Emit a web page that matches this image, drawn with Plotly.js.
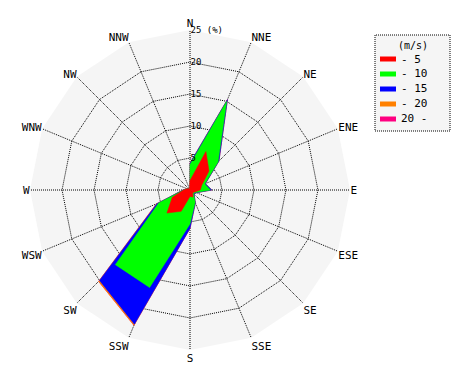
<!DOCTYPE html>
<html>
<head>
<meta charset="utf-8">
<script src="https://cdn.plot.ly/plotly-3.0.1.min.js"></script>
<style>html,body{margin:0;padding:0;background:#fff;}#chart{width:470px;height:380px;}</style>
</head>
<body>
<div id="chart"></div>
<script>
// Wind directions (16 points)
const directions = ['N','NNE','NE','ENE','E','ESE','SE','SSE','S','SSW','SW','WSW','W','WNW','NW','NNW'];
// Cumulative frequency (%) by speed class
const upTo5  = [1.5, 6.5, 4.2, 2.0, 1.6, 0.8, 0.6, 1.2, 1.0, 3.6, 5.1, 3.0, 1.0, 0.5, 0.3, 0.2];
const upTo10 = [4.0, 15.0, 6.2, 2.5, 3.2, 1.0, 0.8, 2.1, 5.3, 16.5, 16.5, 5.3, 1.0, 0.5, 0.3, 0.0];
const upTo15 = [4.2, 15.3, 6.4, 2.6, 3.4, 1.1, 0.9, 2.2, 6.0, 22.7, 20.0, 5.6, 1.1, 0.5, 0.3, 0.0];
const upTo20 = [4.2, 15.3, 6.4, 2.6, 3.4, 1.1, 0.9, 2.2, 6.0, 22.9, 20.2, 5.7, 1.1, 0.5, 0.3, 0.0];
const over20 = [4.2, 15.3, 6.4, 2.6, 3.4, 1.1, 0.9, 2.2, 6.0, 22.9, 20.2, 5.7, 1.1, 0.5, 0.3, 0.0];
const classNames = ['- 5', '- 10', '- 15', '- 20', '20 -'];
const classColors = ['#ff0000', '#00ff00', '#0000ff', '#ff8000', '#ff0080'];
const legendTitle = '(m/s)';
const radialTicks = [5, 10, 15, 20, 25];
const radialTickText = ['5', '10', '15', '20', '25 (%)'];

const series = [upTo5, upTo10, upTo15, upTo20, over20];
const traces = [];
for (let i = series.length - 1; i >= 0; i--) {
  traces.push({
    type: 'scatterpolar',
    mode: 'lines',
    r: series[i].concat([series[i][0]]),
    theta: directions.concat([directions[0]]),
    fill: 'toself',
    fillcolor: classColors[i],
    line: {color: classColors[i], width: 0.5},
    name: classNames[i],
    hoverinfo: 'skip',
    showlegend: false
  });
}

const W = 470, H = 380;
const px = x => x / W, py = y => 1 - y / H;
const font = {family: 'DejaVu Sans Mono, monospace', size: 11, color: '#000'};

// Legend box drawn with paper-referenced shapes and annotations
const shapes = [{
  type: 'rect', xref: 'paper', yref: 'paper',
  x0: px(375), x1: px(450), y0: py(131), y1: py(35),
  fillcolor: '#f5f5f5', line: {color: '#000', width: 1, dash: '1px,1px'}, layer: 'below'
}];
const annotations = [{
  xref: 'paper', yref: 'paper', x: px(413), y: py(45), text: legendTitle,
  showarrow: false, xanchor: 'center', yanchor: 'middle',
  font: {family: 'DejaVu Sans Mono, monospace', size: 10, color: '#000'}
}];
classNames.forEach((name, i) => {
  const yc = 59 + i * 15;
  shapes.push({
    type: 'rect', xref: 'paper', yref: 'paper',
    x0: px(380), x1: px(396), y0: py(yc + 2.5), y1: py(yc - 2.5),
    fillcolor: classColors[i], line: {width: 0}
  });
  annotations.push({
    xref: 'paper', yref: 'paper', x: px(399), y: py(yc), text: name,
    showarrow: false, xanchor: 'left', yanchor: 'middle', font: font
  });
});

const layout = {
  width: W, height: H,
  margin: {l: 0, r: 0, t: 0, b: 0},
  paper_bgcolor: '#ffffff',
  font: font,
  showlegend: false,
  shapes: shapes,
  annotations: annotations,
  polar: {
    domain: {x: [px(30), px(350)], y: [1 - 350 / H, 1 - 30 / H]},
    gridshape: 'linear',
    bgcolor: '#f5f5f5',
    angularaxis: {
      type: 'category',
      categoryarray: directions,
      direction: 'clockwise',
      rotation: 90,
      showline: false,
      ticks: '',
      gridcolor: '#000', griddash: '1px,1px', gridwidth: 1,
      tickfont: font, layer: 'above traces'
    },
    radialaxis: {
      range: [0, 25.01],
      angle: 90,
      tickvals: radialTicks,
      ticktext: radialTickText,
      showline: false,
      ticks: '',
      gridcolor: '#000', griddash: '1px,1px', gridwidth: 1,
      tickfont: {family: 'DejaVu Sans Mono, monospace', size: 9, color: '#000'},
      tickangle: 90,
      side: 'clockwise',
      layer: 'above traces'
    }
  }
};
Plotly.newPlot('chart', traces, layout, {staticPlot: true, displayModeBar: false});
</script>
</body>
</html>
